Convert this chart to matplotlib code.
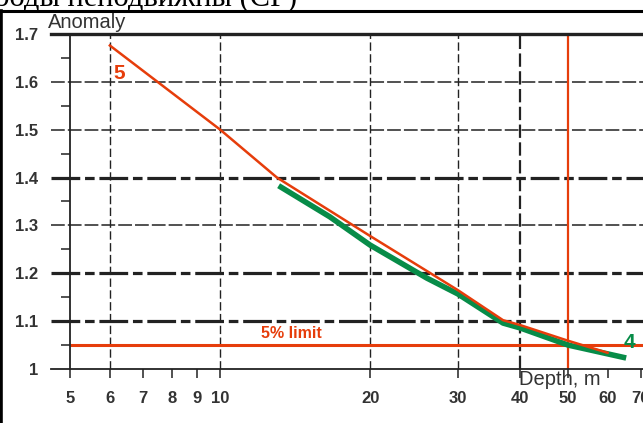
import matplotlib.pyplot as plt
import matplotlib.ticker as mticker
import matplotlib.transforms as mtransforms
from matplotlib.lines import Line2D

plt.rcParams['font.family'] = ['Liberation Sans', 'DejaVu Sans']

# curve 5 (red) and curve 4 (green)
depth_5 = [6, 10, 13, 20, 30, 37, 40, 50, 60]
anom_5 = [1.676, 1.5, 1.4, 1.278, 1.165, 1.102, 1.092, 1.059, 1.034]
depth_4 = [13.1, 16.6, 20, 26, 30, 37, 40, 50, 65.4]
anom_4 = [1.383, 1.318, 1.259, 1.19, 1.157, 1.096, 1.086, 1.05, 1.023]
limit = 1.05
depth_mark = 50

x_ticks = [5, 6, 7, 8, 9, 10, 20, 30, 40, 50, 60, 70]
x_labels = ['5', '6', '7', '8', '9', '10', '20', '30', '40', '50', '60', '70']
y_ticks = [1, 1.1, 1.2, 1.3, 1.4, 1.5, 1.6, 1.7]
y_labels = ['1', '1.1', '1.2', '1.3', '1.4', '1.5', '1.6', '1.7']
y_minor = [1.05, 1.15, 1.25, 1.35, 1.45, 1.55, 1.65]
thin_y = [1.3, 1.5, 1.6]
bold_y = [1.1, 1.2, 1.4]
thin_x = [6, 10, 20, 30]
bold_x = [40]

red = '#E63D0B'
green = '#078C48'
dark = '#222222'
txt = '#333333'

fig = plt.figure(figsize=(6.43, 4.23), dpi=100)
ax = fig.add_axes([51 / 643, 1 - 369 / 423, 592 / 643, 335 / 423])
ax.set_xscale('log')
ax.set_xlim(4.57, 70.7)
ax.set_ylim(1.0, 1.7)

for y in thin_y:
    ax.axhline(y, color=dark, lw=1.1, dashes=(9, 2), zorder=1)
for y in bold_y:
    ax.axhline(y, color=dark, lw=2.3, dashes=(9, 1.5, 3, 1.5), zorder=1)
for x in thin_x:
    ax.axvline(x, color=dark, lw=1.0, dashes=(6, 2.5), zorder=1)
for x in bold_x:
    ax.axvline(x, color=dark, lw=1.6, dashes=(6, 2), zorder=1)
ax.axvline(depth_mark, color=red, lw=1.6, zorder=2)
ax.hlines(limit, x_ticks[0], 70.7, color=red, lw=2.2, zorder=2)

ax.plot(depth_4, anom_4, color=green, lw=4, zorder=3, solid_capstyle='butt')
ax.plot(depth_5, anom_5, color=red, lw=1.8, zorder=4)

ax.text(6.1, 1.618, '5', color=red, fontsize=15, fontweight='bold',
        ha='left', va='center')
ax.text(66.4, 1.056, '4', color=green, fontsize=15, fontweight='bold',
        ha='center', va='center')
ax.text(16.0, 1.075, '5% limit', color=red, fontsize=11.5, fontweight='bold',
        ha='right', va='center')

trans = mtransforms.blended_transform_factory(ax.transData, ax.transAxes)
ax.text(39.8, -0.03, 'Depth, m', transform=trans, color=txt, fontsize=14.5,
        ha='left', va='center')
ax.text(-0.005, 1.018, 'Anomaly', transform=ax.transAxes, color=txt,
        fontsize=14.5, ha='left', va='baseline')

ax.spines['right'].set_visible(False)
ax.spines['left'].set_position(('data', x_ticks[0]))
ax.spines['left'].set_color(dark)
ax.spines['left'].set_linewidth(1.3)
ax.spines['bottom'].set_color(dark)
ax.spines['bottom'].set_linewidth(1.3)
ax.spines['top'].set_color(dark)
ax.spines['top'].set_linewidth(2.4)

ax.xaxis.set_major_locator(mticker.FixedLocator(x_ticks))
ax.xaxis.set_major_formatter(mticker.FixedFormatter(x_labels))
ax.xaxis.set_minor_locator(mticker.NullLocator())
ax.yaxis.set_major_locator(mticker.FixedLocator(y_ticks))
ax.yaxis.set_major_formatter(mticker.FixedFormatter(y_labels))
ax.yaxis.set_minor_locator(mticker.FixedLocator(y_minor))

ax.tick_params(axis='x', which='major', direction='out', length=6.5, width=1.1,
               color=dark, pad=9.5, labelsize=12, labelcolor=txt)
ax.tick_params(axis='y', which='major', length=0, pad=23, labelsize=12,
               labelcolor=txt)
ax.tick_params(axis='y', which='minor', direction='out', length=6.5, width=1.1,
               color=dark)
for lbl in ax.get_xticklabels() + ax.get_yticklabels():
    lbl.set_fontweight('bold')

# page frame and clipped heading
fig.add_artist(Line2D([0, 1], [1 - 11 / 423] * 2, color='black', lw=2.2))
fig.add_artist(Line2D([1 / 643] * 2, [0, 1 - 11 / 423], color='black', lw=2.6))
fig.text(297 / 643, 1 - 6 / 423, 'Породы неподвижны (СР)', ha='right',
         va='baseline', family='Liberation Serif', fontsize=22, color='black')

fig.savefig('out.png', dpi=100)
